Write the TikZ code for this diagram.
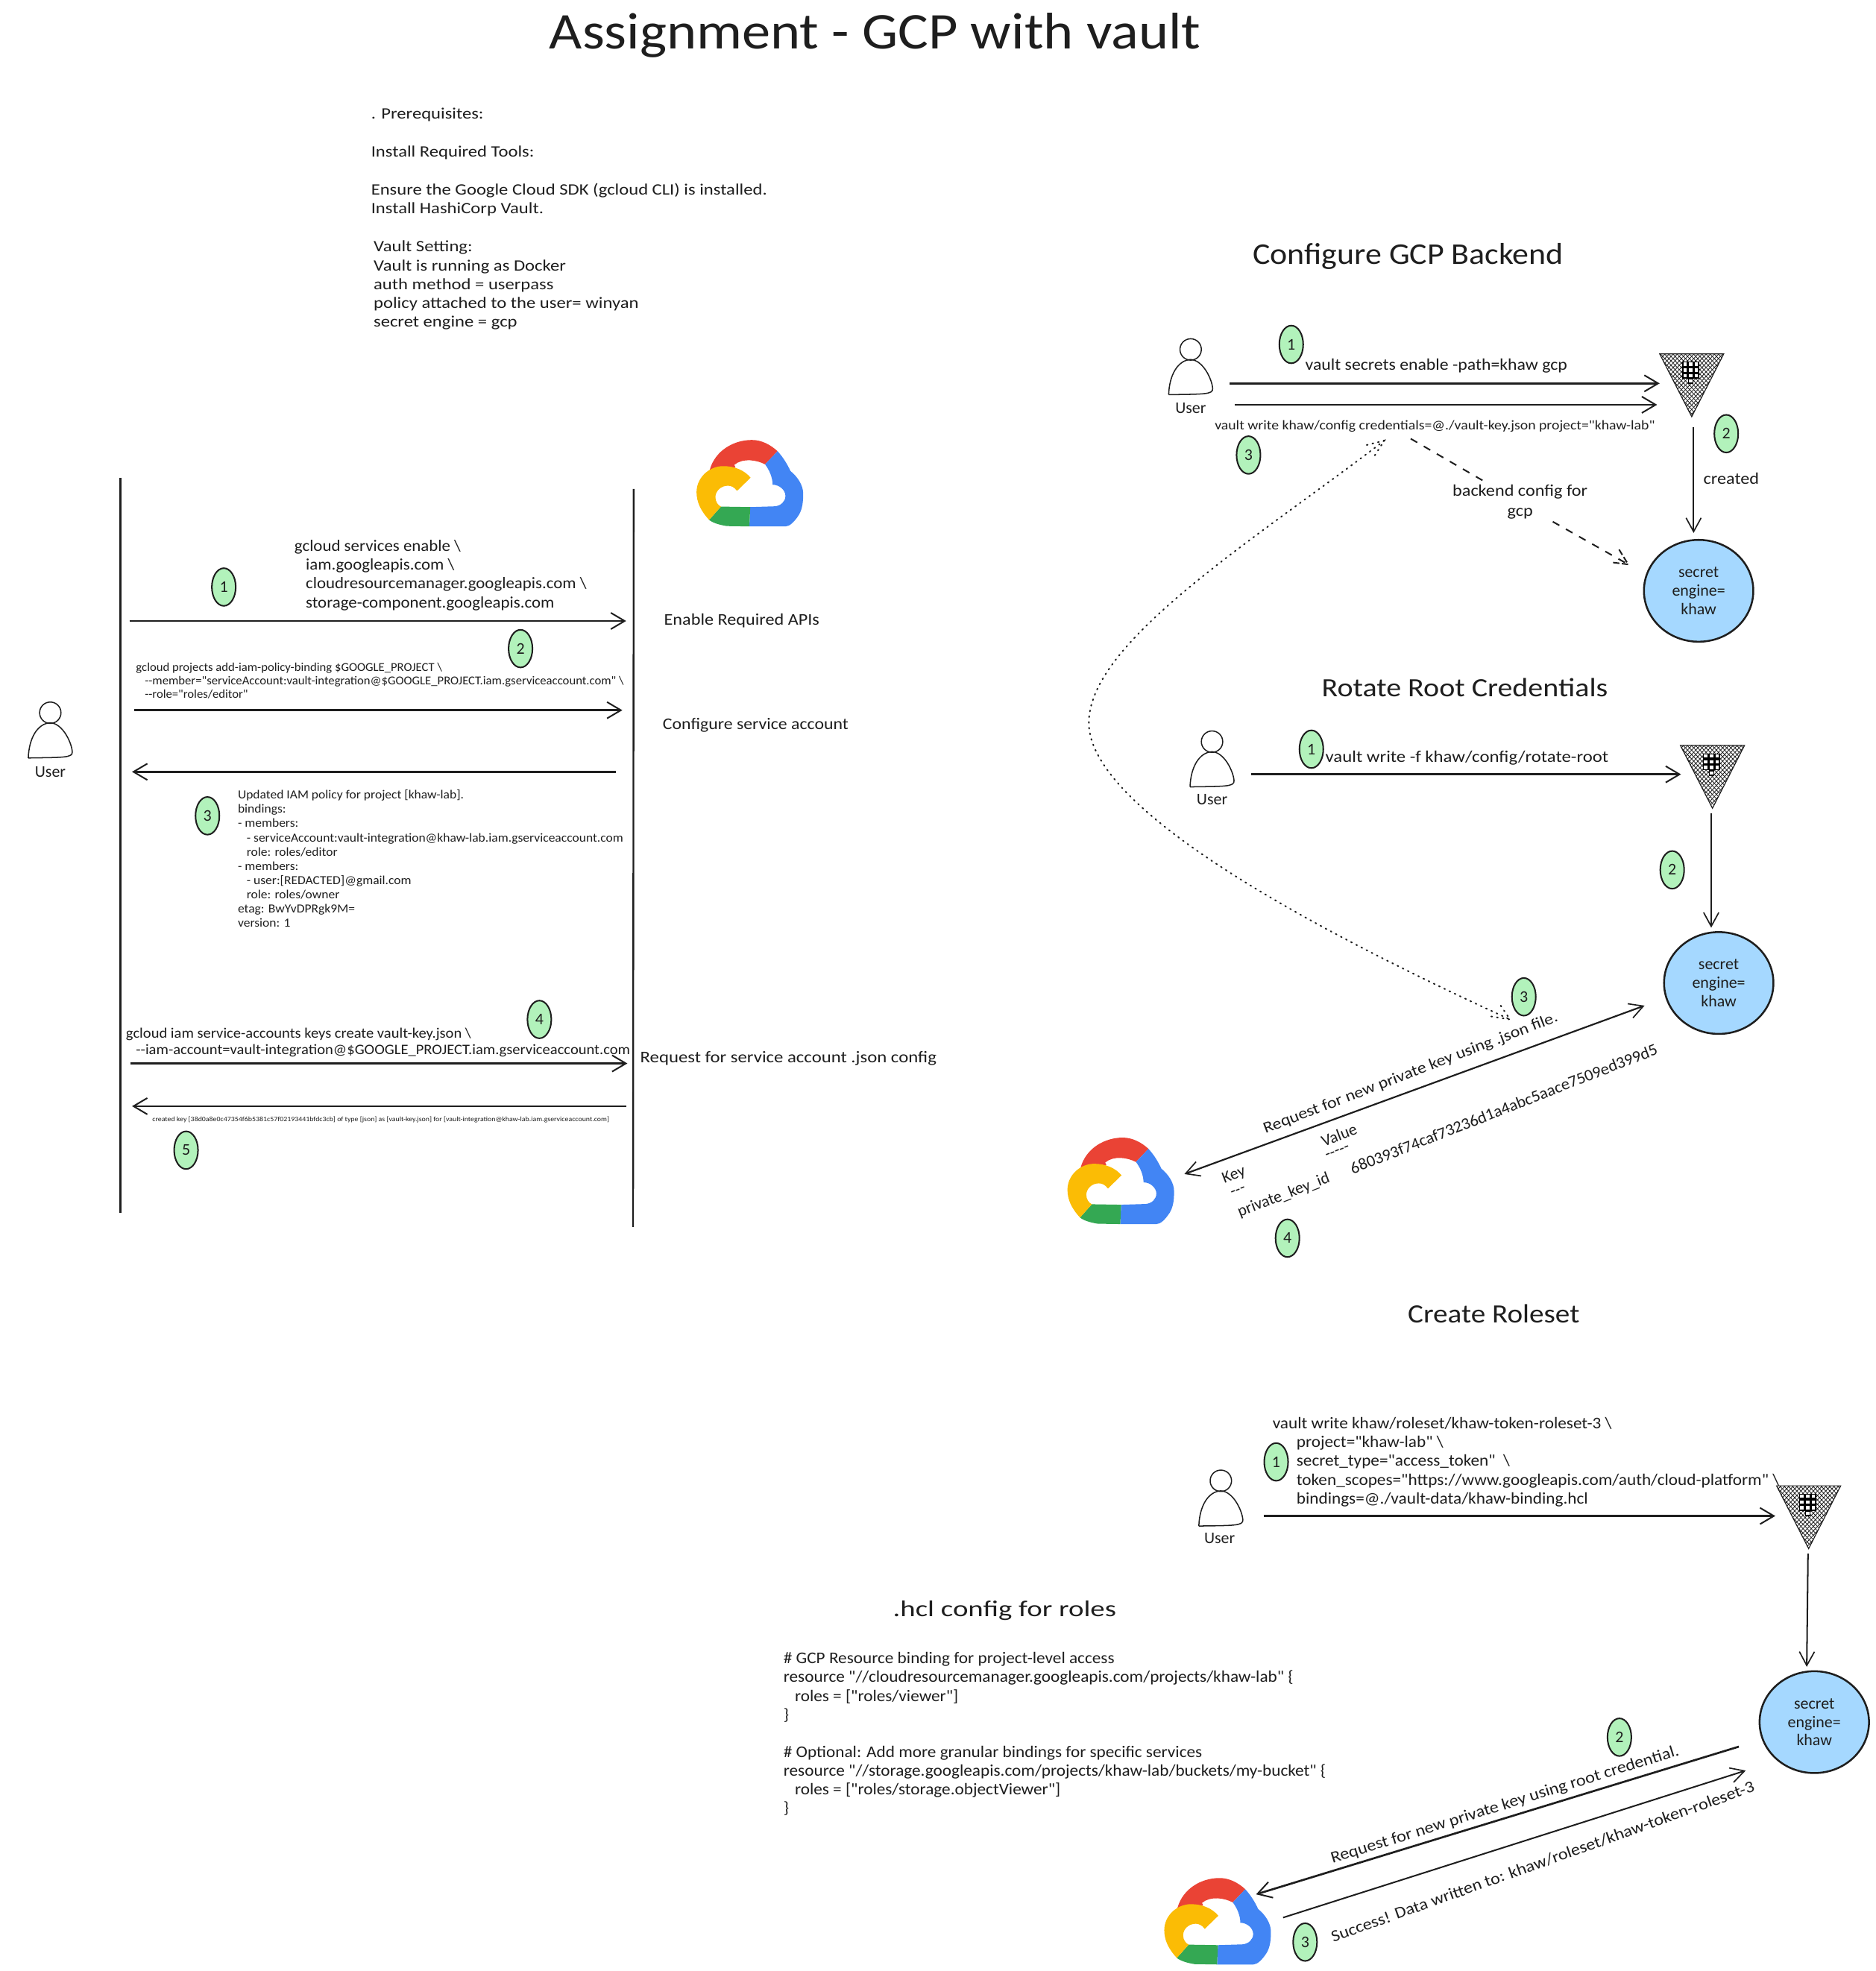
\documentclass[tikz,border=0pt]{standalone}
\usepackage{fontspec}
\setmainfont{Carlito}
\newfontfamily\sfa{Carlito}[FakeStretch=1.0]
\newfontfamily\sfb{Carlito}[FakeStretch=1.03]
\newfontfamily\sfc{Carlito}[FakeStretch=1.06]
\newfontfamily\sfd{Carlito}[FakeStretch=1.085]
\newfontfamily\sfe{Carlito}[FakeStretch=1.105]
\newfontfamily\sff{Carlito}[FakeStretch=1.13]
\newfontfamily\sfg{Carlito}[FakeStretch=1.16]
\newfontfamily\sfh{Carlito}[FakeStretch=1.28]
\usetikzlibrary{arrows.meta,shapes.geometric,patterns.meta}
\definecolor{ink}{HTML}{1E1E1E}
\definecolor{badgefill}{HTML}{B2F2BB}
\definecolor{enginefill}{HTML}{A5D8FF}
\definecolor{gred}{HTML}{EA4335}
\definecolor{gblue}{HTML}{4285F4}
\definecolor{gyellow}{HTML}{FBBC05}
\definecolor{ggreen}{HTML}{34A853}
\tikzset{
  lbl/.style n args={3}{font=#3\fontsize{#1}{#2}\selectfont,text=ink,anchor=west,align=left,inner sep=0pt,yshift=-1pt},
  ctr/.style n args={3}{font=#3\fontsize{#1}{#2}\selectfont,text=ink,anchor=center,align=center,inner sep=0pt},
  badge/.style={ellipse,draw=ink,line width=1.2pt,fill=badgefill,minimum width=19pt,minimum height=30pt,inner sep=0pt,text=ink,font=\fontsize{13}{15}\selectfont},
  engine/.style={ellipse,draw=ink,line width=1.5pt,fill=enginefill,minimum width=87pt,minimum height=81pt,inner sep=0pt,text=ink,align=center,font=\fontsize{13}{14.7}\selectfont},
  flow/.style={draw=ink,line width=1.6pt,-{Straight Barb[length=11pt,width=13pt,line width=1.2pt]}},
  flowthin/.style={draw=ink,line width=1.2pt,-{Straight Barb[length=11pt,width=12pt,line width=1pt]}},
  both/.style={draw=ink,line width=1.3pt,{Straight Barb[length=11pt,width=12pt,line width=1pt]}-{Straight Barb[length=11pt,width=12pt,line width=1pt]}},
  lifeline/.style={draw=ink,line width=#1},
  dashflow/.style={draw=ink,line width=1.2pt,dash pattern=on 6pt off 6pt},
  dotflow/.style={draw=ink,line width=1.2pt,dash pattern=on .8pt off 3.8pt,line cap=round},
}
% figure of a user: head centre at x,y
\newcommand{\personfig}[3]{%
  \node[circle,draw=ink,line width=.9pt,minimum size=17pt,inner sep=0pt] (#1) at (#2,#3) {};
  \begin{scope}[shift={(#2,#3)}]
    \draw[ink,line width=.9pt] (-17.5,36) .. controls (-17,20) and (-10,8.5) .. (0,8) .. controls (10,8.5) and (17,24) .. (17.5,31) .. controls (18,36) and (10,35.5) .. (-17.5,36);
  \end{scope}}
% Google Cloud logo: left,top given
\newcommand{\gcloudfig}[3]{%
  \begin{scope}[shift={(#2,#3)}]
    \fill[gred] (10.5,23.7) .. controls (15,8) and (30,0) .. (44,0) .. controls (52,0) and (59,4) .. (64.4,8.9) -- (54.5,19.4) .. controls (48,16) and (37,14) .. (30,19.8) -- (31,22) -- (10.5,24) -- cycle;
    \fill[gblue] (64.4,8.9) .. controls (69,14) and (72,19) .. (74.7,24.7) .. controls (80,29) and (85,36) .. (84.8,43) .. controls (84.8,50) and (84,55) .. (81.6,59.3) .. controls (78,65) and (74,68.8) .. (70.8,68.8) -- (42,68.8) -- (42.7,53.4) -- (62,52.8) .. controls (67,52.5) and (70.7,49) .. (70.7,44.5) .. controls (70.7,40) and (66,35.6) .. (60.5,35.6) .. controls (60.5,30) and (58,24) .. (54.5,19.4) -- cycle;
    \fill[ggreen] (19.4,53) -- (42.7,53.4) -- (42,68.8) -- (24,68.5) .. controls (18,67.5) and (13,66) .. (10,63.6) -- cycle;
    \fill[gyellow] (10,63.6) .. controls (3,56) and (0,49) .. (0,41.5) .. controls (0,30) and (10,20.8) .. (21.3,20.8) .. controls (30,20.8) and (38,24) .. (43,30) -- (32.2,40.5) .. controls (30,37.5) and (27.5,36.4) .. (25,36.4) .. controls (19,36.4) and (15,41) .. (15,45.5) .. controls (15,49) and (17,52) .. (19.4,53) -- cycle;
    \node[minimum width=85pt,minimum height=69pt,inner sep=0pt] (#1) at (42.5,34.5) {};
  \end{scope}}
% Vault triangle: centre x, top y
\newcommand{\vaultfig}[3]{%
  \begin{scope}[shift={(#2,#3)}]
    \fill[pattern={Lines[angle=47,distance=2.4pt,line width=.5pt]},pattern color=ink] (-25.5,0) -- (25.5,0) -- (0,50) -- cycle;
    \fill[pattern={Lines[angle=-47,distance=2.4pt,line width=.5pt]},pattern color=ink] (-25.5,0) -- (25.5,0) -- (0,50) -- cycle;
    \draw[ink,line width=.7pt] (-25.5,0) -- (25.5,0) -- (0,50) -- cycle;
    \fill[black] (-7.6,6.3) rectangle (6,19.8);
    \fill[black] (-3,19) rectangle (1.4,24.2);
    \foreach \cx in {-6.7,-2.1,2.5} \foreach \cy in {7,11.6,16.2} {\fill[white] (\cx,\cy) rectangle ++(2.6,2.6);}
    \fill[white] (-2.1,20.6) rectangle ++(2.6,2.4);
    \node[minimum width=51pt,minimum height=50pt,inner sep=0pt] (#1) at (0,25) {};
  \end{scope}}
\begin{document}
\begin{tikzpicture}[x=1pt,y=-1pt]
\useasboundingbox (0,0) rectangle (1492,1568);
% Title
\node[ctr={41}{45}{\sfe}] (title) at (696,28) {Assignment - GCP with vault};
% Prerequisites
\node[lbl={12.6}{15}{\sfg}] (prereqA) at (295,128) {. Prerequisites:\\\mbox{}\\Install Required Tools:\\\mbox{}\\Ensure the Google Cloud SDK (gcloud CLI) is installed.\\Install HashiCorp Vault.};
\node[lbl={12.6}{15}{\sfg}] (prereqB) at (297,226) {Vault Setting:\\Vault is running as Docker\\auth method = userpass\\policy attached to the user= winyan\\secret engine = gcp};
% Left: lifelines
\coordinate (llA) at (96,380); \coordinate (llB) at (96,965);
\coordinate (lrA) at (504,389); \coordinate (lrB) at (503.5,976);
\draw[lifeline=1.8pt] (llA) -- (llB);
\draw[lifeline=1.4pt] (lrA) -- (lrB);
\gcloudfig{cloudA}{554}{350}
\personfig{userL}{40}{567}
\node[ctr={13}{15}{\sfa}] (userLt) at (40,614) {User};
% Left arrows
\coordinate (a1s) at (103,494); \coordinate (a1e) at (498,494);
\coordinate (a2s) at (107,565); \coordinate (a2e) at (495,565);
\coordinate (a3s) at (490,614); \coordinate (a3e) at (105,614);
\coordinate (a4s) at (104,846); \coordinate (a4e) at (499,846);
\coordinate (a5s) at (498,880); \coordinate (a5e) at (105,880);
\draw[flow] (a1s) -- (a1e);
\draw[flow] (a2s) -- (a2e);
\draw[flow] (a3s) -- (a3e);
\draw[flow] (a4s) -- (a4e);
\draw[flow] (a5s) -- (a5e);
% Left texts
\node[lbl={12.8}{15}{\sfc}] (t1) at (234,456.5) {gcloud services enable \textbackslash\\\hspace*{9pt}iam.googleapis.com \textbackslash\\\hspace*{9pt}cloudresourcemanager.googleapis.com \textbackslash\\\hspace*{9pt}storage-component.googleapis.com};
\node[lbl={9.6}{10.7}{\sfb}] (t2) at (108,540.5) {gcloud projects add-iam-policy-binding \$GOOGLE\_PROJECT \textbackslash\\\hspace*{7pt}-{}-member="serviceAccount:vault-integration@\$GOOGLE\_PROJECT.iam.gserviceaccount.com" \textbackslash\\\hspace*{7pt}-{}-role="roles/editor"};
\node[lbl={9.8}{11.3}{\sfc}] (t3) at (189,682) {Updated IAM policy for project [khaw-lab].\\bindings:\\- members:\\\hspace*{7pt}- serviceAccount:vault-integration@khaw-lab.iam.gserviceaccount.com\\\hspace*{7pt}role: roles/editor\\- members:\\\hspace*{7pt}- user:[REDACTED]@gmail.com\\\hspace*{7pt}role: roles/owner\\etag: BwYvDPRgk9M=\\version: 1};
\node[lbl={11.5}{13}{\sfc}] (t4) at (100,828.5) {gcloud iam service-accounts keys create vault-key.json \textbackslash\\\hspace*{8pt}-{}-iam-account=vault-integration@\$GOOGLE\_PROJECT.iam.gserviceaccount.com};
\node[lbl={5.4}{6}{\sfd}] (t5) at (121,890) {created key [38d0a8e0c47354f6b5381c57f02193441bfdc3cb] of type [json] as [vault-key.json] for [vault-integration@khaw-lab.iam.gserviceaccount.com]};
\node[lbl={13}{15}{\sfe}] (r1) at (528,493) {Enable Required APIs};
\node[lbl={13}{15}{\sfd}] (r2) at (527,576) {Configure service account};
\node[lbl={13}{15}{\sff}] (r3) at (509,841) {Request for service account .json config};
\node[badge] (bL1) at (178,467) {1};
\node[badge] (bL2) at (414,516) {2};
\node[badge] (bL3) at (165,649) {3};
\node[badge] (bL4) at (429,811) {4};
\node[badge] (bL5) at (148,915) {5};
% Configure GCP backend
\node[ctr={24}{28}{\sfd}] (h1) at (1120,204) {Configure GCP Backend};
\personfig{userA}{947}{278}
\node[ctr={13}{15}{\sfa}] (userAt) at (947,325) {User};
\vaultfig{vaultA}{1345.5}{281.5}
\node[engine] (engA) at (1351,470) {secret\\engine=\\khaw};
\coordinate (b1s) at (978,305); \coordinate (b1e) at (1320,305);
\coordinate (b2s) at (982,322); \coordinate (b2e) at (1318,322);
\coordinate (b3s) at (1347,340); \coordinate (b3e) at (1347,424);
\draw[flow] (b1s) -- (b1e);
\draw[flow] (b2s) -- (b2e);
\draw[flowthin] (b3s) -- (b3e);
\node[lbl={13}{15}{\sfd}] (tA1) at (1038,290) {vault secrets enable -path=khaw gcp};
\node[lbl={10.6}{12}{\sfe}] (tA2) at (966,338) {vault write khaw/config credentials=@./vault-key.json project="khaw-lab"};
\node[ctr={13}{15}{\sfe}] (tA3) at (1377,381) {created};
\node[ctr={13}{16}{\sfe}] (tA4) at (1209,399) {backend config for\\gcp};
\coordinate (d1s) at (1122,349); \coordinate (d1e) at (1184,385);
\coordinate (d2s) at (1235,415); \coordinate (d2e) at (1295,449);
\coordinate (d2a) at (1283,447.5); \coordinate (d2b) at (1287,436);
\draw[dashflow] (d1s) -- (d1e);
\draw[dashflow] (d2s) -- (d2e);
\draw[ink,line width=1.2pt,dash pattern=on 5pt off 2pt] (d2a) -- (d2e) -- (d2b);
\node[badge] (bA1) at (1027,274) {1};
\node[badge] (bA2) at (1373,345) {2};
\node[badge] (bA3) at (993,362) {3};
% Dotted curve between step 3s
\coordinate (c0) at (1101,350.5); \coordinate (c9) at (1201,811);
\coordinate (cm) at (866,575);
\draw[dotflow] (c0) .. controls (1000,428) and (866,510) .. (cm) .. controls (866,630) and (980,710) .. (c9);
\coordinate (c0a) at (1087,354); \coordinate (c0b) at (1093,363);
\coordinate (c9a) at (1186,808.6); \coordinate (c9b) at (1193.6,800);
\draw[dotflow] (c0a) -- (c0) -- (c0b);
\draw[dotflow] (c9a) -- (c9) -- (c9b);
% Rotate Root Credentials
\node[ctr={21}{25}{\sff}] (h2) at (1165,547) {Rotate Root Credentials};
\personfig{userB}{964}{590}
\node[ctr={13}{15}{\sfa}] (userBt) at (964,636) {User};
\vaultfig{vaultB}{1362}{593}
\node[engine] (engB) at (1367,782) {secret\\engine=\\khaw};
\gcloudfig{cloudB}{849}{905}
\coordinate (e1s) at (995,616); \coordinate (e1e) at (1337,616);
\coordinate (e2s) at (1361,647); \coordinate (e2e) at (1361,738);
\coordinate (e3s) at (942,934); \coordinate (e3e) at (1308,800);
\draw[flow] (e1s) -- (e1e);
\draw[flowthin] (e2s) -- (e2e);
\draw[both] (e3s) -- (e3e);
\node[lbl={13}{15}{\sff}] (tB1) at (1054,602) {vault write -f khaw/config/rotate-root};
\node[ctr={12.6}{15}{\sff},rotate=21] (tB2) at (1122,854) {Request for new private key using .json file.};
\node[ctr={13}{15}{\sfa},rotate=21] (tB3) at (981.5,935) {Key};
\node[ctr={13}{15}{\sfa},rotate=21] (tB4) at (985,948) {-{}-{}-};
\node[ctr={13}{15}{\sfa},rotate=21] (tB5) at (1021,951) {private\_key\_id};
\node[ctr={13}{15}{\sfa},rotate=21] (tB6) at (1065,903) {Value};
\node[ctr={13}{15}{\sfa},rotate=21] (tB7) at (1064,917) {-{}-{}-{}-{}-};
\node[ctr={13}{15}{\sfb},rotate=21.5] (tB8) at (1196,882) {680393f74caf73236d1a4abc5aace7509ed399d5};
\node[badge] (bB1) at (1043,596) {1};
\node[badge] (bB2) at (1330,692) {2};
\node[badge] (bB3) at (1212,793) {3};
\node[badge] (bB4) at (1024,985) {4};
% Create Roleset
\node[ctr={21}{25}{\sfe}] (h3) at (1188,1045) {Create Roleset};
\personfig{userC}{971}{1178}
\node[ctr={13}{15}{\sfa}] (userCt) at (970,1224) {User};
\vaultfig{vaultC}{1438.5}{1182}
\node[engine] (engC) at (1443,1370) {secret\\engine=\\khaw};
\gcloudfig{cloudC}{926}{1494}
\coordinate (f1s) at (1005,1206); \coordinate (f1e) at (1412,1206);
\coordinate (f2s) at (1438,1236); \coordinate (f2e) at (1437,1326);
\coordinate (f3s) at (1383,1389.5); \coordinate (f3e) at (999,1507);
\coordinate (f4s) at (1020.5,1525.5); \coordinate (f4e) at (1388.5,1408.5);
\draw[flow] (f1s) -- (f1e);
\draw[flowthin] (f2s) -- (f2e);
\draw[flow] (f3s) -- (f3e);
\draw[flowthin] (f4s) -- (f4e);
\node[lbl={13}{15}{\sfc}] (tC1) at (1012,1162) {vault write khaw/roleset/khaw-token-roleset-3 \textbackslash\\\hspace*{19pt}project="khaw-lab" \textbackslash\\\hspace*{19pt}secret\_type="access\_token"\ \ \textbackslash\\\hspace*{19pt}token\_scopes="https://www.googleapis.com/auth/cloud-platform" \textbackslash\\\hspace*{19pt}bindings=@./vault-data/khaw-binding.hcl};
\node[ctr={13}{15}{\sfe},rotate=17.3] (tC2) at (1197,1436) {Request for new private key using root credential.};
\node[ctr={13}{15}{\sfe},rotate=19.7] (tC3) at (1227,1481) {Success! Data written to: khaw/roleset/khaw-token-roleset-3};
\node[badge] (bC1) at (1015,1163) {1};
\node[badge] (bC2) at (1288,1382) {2};
\node[badge] (bC3) at (1038,1545) {3};
% hcl
\node[ctr={18}{22}{\sfh}] (h4) at (799,1281) {.hcl config for roles};
\node[lbl={13}{14.9}{\sfc}] (hcl) at (623,1378.5) {\# GCP Resource binding for project-level access\\resource "//cloudresourcemanager.googleapis.com/projects/khaw-lab" \{\\\hspace*{9pt}roles = ["roles/viewer"]\\\}\\\mbox{}\\\# Optional: Add more granular bindings for specific services\\resource "//storage.googleapis.com/projects/khaw-lab/buckets/my-bucket" \{\\\hspace*{9pt}roles = ["roles/storage.objectViewer"]\\\}};
\end{tikzpicture}
\end{document}
